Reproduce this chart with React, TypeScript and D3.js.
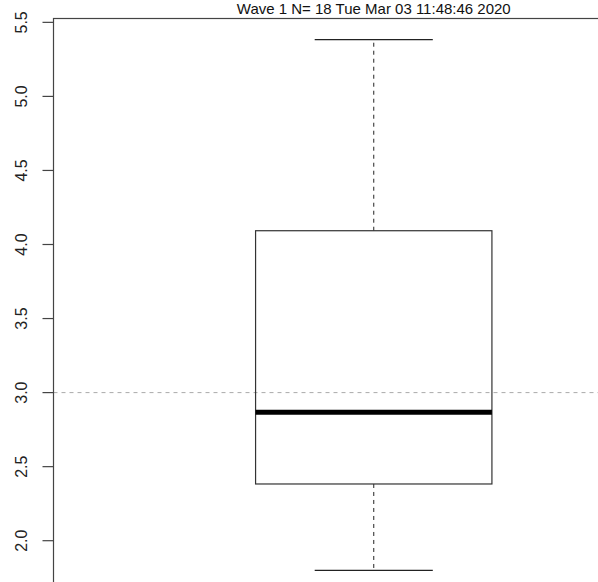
import React from "react";
import * as d3 from "d3";

const titleText = "Wave 1 N= 18 Tue Mar 03 11:48:46 2020";
const yTicks = [2.0, 2.5, 3.0, 3.5, 4.0, 4.5, 5.0, 5.5];
const yDomain = [1.657, 5.526];
const groups = [1];
const whiskerLow = [1.8];
const q1 = [2.383];
const median = [2.868];
const q3 = [4.093];
const whiskerHigh = [5.383];
const refLine = [3.0];

const W = 598;
const H = 582;
const plotLeft = 53.5;
const plotTop = 18.5;
const plotRight = 694;
const plotBottom = 591.5;
const boxHalf = 0.1845;
const capHalf = 0.0922;

export default function App() {
  const y = d3.scaleLinear().domain(yDomain).range([plotBottom, plotTop]);
  const x = d3.scaleLinear().domain([0.5, 1.5]).range([plotLeft, plotRight]);
  const axisColor = "#444";
  return (
    <svg width={W} height={H} style={{ position: "absolute", left: 0, top: 0, background: "#fff" }}
      fontFamily="'Liberation Sans', Arial, sans-serif">
      <rect x={0} y={0} width={W} height={H} fill="#fff" />
      <text x={x(1)} y={13.5} fontSize={15} textAnchor="middle" fill="#111">{titleText}</text>
      {refLine.map((v, i) => (
        <line key={i} x1={plotLeft} x2={W} y1={y(v)} y2={y(v)} stroke="#aaa" strokeWidth={1} strokeDasharray="4,4" />
      ))}
      <rect x={plotLeft} y={plotTop} width={plotRight - plotLeft} height={plotBottom - plotTop}
        fill="none" stroke={axisColor} strokeWidth={1.2} />
      {yTicks.map((t) => (
        <g key={t}>
          <line x1={plotLeft - 11} x2={plotLeft} y1={y(t)} y2={y(t)} stroke={axisColor} strokeWidth={1.2} />
          <text transform={`translate(27,${y(t)}) rotate(-90)`} fontSize={16} textAnchor="middle" fill="#222">
            {t.toFixed(1)}
          </text>
        </g>
      ))}
      {groups.map((g, i) => (
        <g key={g}>
          <line x1={x(g)} x2={x(g)} y1={y(q3[i])} y2={y(whiskerHigh[i])} stroke="#222" strokeDasharray="4,4" />
          <line x1={x(g)} x2={x(g)} y1={y(q1[i])} y2={y(whiskerLow[i])} stroke="#222" strokeDasharray="4,4" />
          <line x1={x(g - capHalf)} x2={x(g + capHalf)} y1={y(whiskerHigh[i])} y2={y(whiskerHigh[i])} stroke="#222" strokeWidth={1.2} />
          <line x1={x(g - capHalf)} x2={x(g + capHalf)} y1={y(whiskerLow[i])} y2={y(whiskerLow[i])} stroke="#222" strokeWidth={1.2} />
          <rect x={x(g - boxHalf)} y={y(q3[i])} width={x(g + boxHalf) - x(g - boxHalf)} height={y(q1[i]) - y(q3[i])}
            fill="none" stroke="#333" strokeWidth={1.2} />
          <line x1={x(g - boxHalf)} x2={x(g + boxHalf)} y1={y(median[i])} y2={y(median[i])} stroke="#000" strokeWidth={5} />
        </g>
      ))}
    </svg>
  );
}
